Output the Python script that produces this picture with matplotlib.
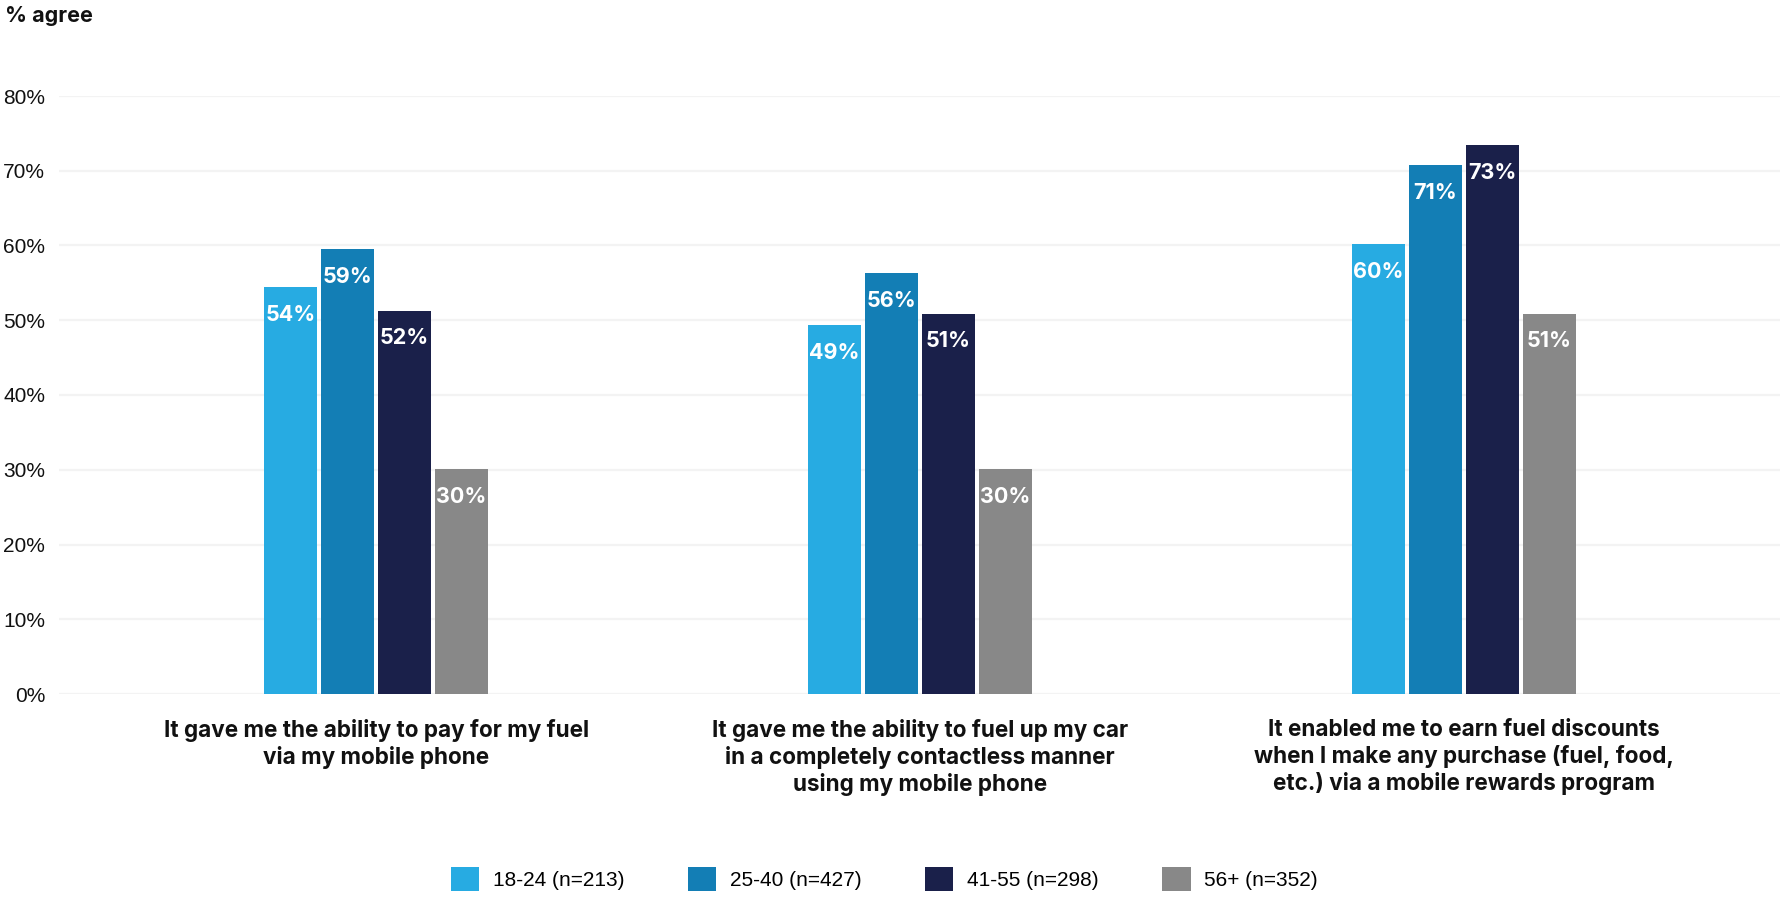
import numpy as np
import matplotlib.pyplot as plt
from matplotlib.transforms import blended_transform_factory

# data
categories = [
    "It gave me the ability to pay for my fuel\nvia my mobile phone",
    "It gave me the ability to fuel up my car\nin a completely contactless manner\nusing my mobile phone",
    "It enabled me to earn fuel discounts\nwhen I make any purchase (fuel, food,\netc.) via a mobile rewards program",
]
groups = ["18-24 (n=213)", "25-40 (n=427)", "41-55 (n=298)", "56+ (n=352)"]
values = [
    [54.4, 49.4, 60.2],   # 18-24
    [59.5, 56.3, 70.8],   # 25-40
    [51.3, 50.9, 73.4],   # 41-55
    [30.1, 30.1, 50.9],   # 56+
]
labels = [
    ["54%", "49%", "60%"],
    ["59%", "56%", "71%"],
    ["52%", "51%", "73%"],
    ["30%", "30%", "51%"],
]
yticks = [0, 10, 20, 30, 40, 50, 60, 70, 80]
colors = ["#27ABE2", "#137EB5", "#1A204A", "#888888"]

BOLD = ["Inter", "DejaVu Sans"]
PLAIN = ["Liberation Sans", "DejaVu Sans"]

fig = plt.figure(figsize=(17.81, 8.98), dpi=100)
ax = fig.add_axes([59 / 1781, 1 - 694 / 898, 1 - 59 / 1781, (694 - 96) / 898])

x = np.arange(len(categories))
step = 0.1048
width = 0.0974

for yv in yticks:
    ax.axhline(yv, color="#f3f3f3", lw=1.6, zorder=0)

for i, (vals, labs) in enumerate(zip(values, labels)):
    pos = x + (i - 1.5) * step
    bars = ax.bar(pos, vals, width, color=colors[i], label=groups[i], zorder=2)
    for b, lab in zip(bars, labs):
        ax.annotate(lab, (b.get_x() + b.get_width() / 2, b.get_height()),
                    xytext=(0, -20), textcoords="offset points",
                    ha="center", va="center", color="white",
                    fontsize=15.5, fontweight="bold", family=BOLD, zorder=3)

ax.set_xlim(-0.583, 2.583)
ax.set_ylim(0, 80)
ax.set_yticks(yticks)
ax.set_yticklabels([f"{v}%" for v in yticks], family=PLAIN, fontsize=15, color="#111111")
ax.tick_params(axis="y", length=0, pad=10)
ax.set_xticks([])
for s in ax.spines.values():
    s.set_visible(False)

trans = blended_transform_factory(ax.transData, ax.transAxes)
for xi, cat in zip(x, categories):
    ax.text(xi, -0.042, cat, transform=trans, ha="center", va="top",
            fontsize=16.2, fontweight="bold", family=BOLD, linespacing=1.22,
            color="#111111")

fig.text(5 / 1781, 1 - 16 / 898, "% agree", ha="left", va="center",
         fontsize=15.5, fontweight="bold", family=BOLD, color="#111111")

fig.legend(loc="center", bbox_to_anchor=(0.4966, 1 - 879 / 898), ncol=4,
           frameon=False, prop={"family": PLAIN, "size": 15},
           handlelength=1.35, handleheight=1.4, handletextpad=0.67,
           columnspacing=3.05)

fig.savefig("out.png", dpi=100, facecolor="white")
